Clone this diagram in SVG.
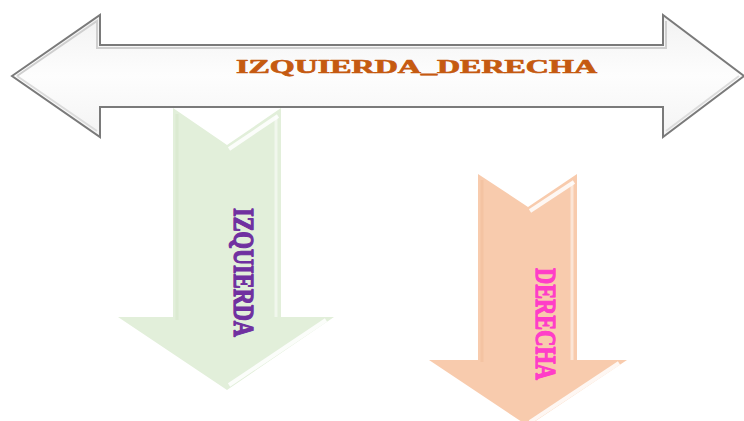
<svg xmlns="http://www.w3.org/2000/svg" width="744" height="421" viewBox="0 0 744 421">
<defs>
<style>
.hi{fill:none;stroke:#ffffff;stroke-width:4;stroke-linejoin:round;opacity:0.85}
.sh{fill:none;stroke-width:3;stroke-linejoin:round;opacity:0.5}
.t{font-family:"Liberation Serif","Times New Roman",serif;font-weight:bold;stroke-linejoin:round}
</style>
<linearGradient id="gw" x1="0" y1="0" x2="0" y2="1">
<stop offset="0" stop-color="#f2f2f2"/>
<stop offset="0.5" stop-color="#fdfdfd"/>
<stop offset="1" stop-color="#f4f4f4"/>
</linearGradient>
</defs>
<rect width="744" height="421" fill="#ffffff"/>
<g id="node-izquierda">
<path d="M173,108 L227,145 L281,108 L281,317 L334,317 L227,390 L118,317 L173,317 Z" fill="#e2efda"/>
<path class="sh" stroke="#d4e6c8" d="M177,114 L177,320"/>
<path class="hi" d="M229,149 L278,116"/>
<path class="hi" d="M326,320 L229,385"/>
<path class="sh" stroke="#ffffff" d="M276,116 L276,317"/>
<text class="t" transform="translate(234,208) rotate(90)" font-size="30" fill="#7030a0" stroke="#7030a0" stroke-width="1.3" textLength="129" lengthAdjust="spacingAndGlyphs">IZQUIERDA</text>
</g>
<g id="node-derecha">
<path d="M478,174 L528,207 L577,174 L577,360 L627,360 L528,426 L429,360 L478,360 Z" fill="#f8cbad"/>
<path class="sh" stroke="#f0bc98" d="M482,180 L482,362"/>
<path class="hi" d="M530,211 L574,182"/>
<path class="hi" d="M619,363 L530,422"/>
<path class="sh" stroke="#ffffff" d="M572,182 L572,360"/>
<text class="t" transform="translate(536,268) rotate(90)" font-size="30" fill="#ff3dc8" stroke="#ff3dc8" stroke-width="1.3" textLength="112" lengthAdjust="spacingAndGlyphs">DERECHA</text>
</g>
<g id="node-izquierda-derecha">
<path d="M12,76 L100,15 L100,45 L663,45 L663,15 L744,76 L663,137 L663,107 L100,107 L100,137 Z" fill="url(#gw)" stroke="#7a7a7a" stroke-width="2" stroke-linejoin="miter"/>
<path d="M17,76 L97,21 L97,48 L666,48 L666,21" fill="none" stroke="#cfcfcf" stroke-width="2"/>
<path d="M17,76 L97,131 M666,131 L739,76" fill="none" stroke="#dcdcdc" stroke-width="2"/>
<text class="t" x="236" y="73" font-size="19" fill="#c55a11" stroke="#c55a11" stroke-width="0.7" textLength="361" lengthAdjust="spacingAndGlyphs">IZQUIERDA_DERECHA</text>
</g>
<g id="connectors"/>
</svg>
